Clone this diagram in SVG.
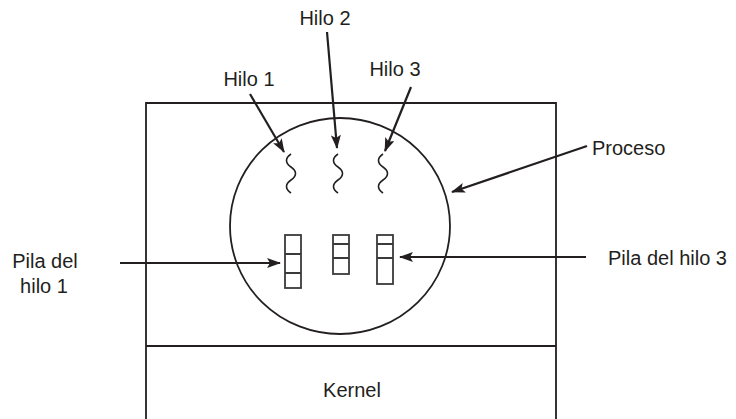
<svg xmlns="http://www.w3.org/2000/svg" width="736" height="419" viewBox="0 0 736 419">
<defs>
<style>
.t{font-family:"Liberation Sans",Arial,Helvetica,sans-serif;font-size:20px;fill:#231f20}
.box{fill:none;stroke:#231f20;stroke-width:1.8}
.arr{fill:none;stroke:#231f20;stroke-width:2.2;marker-end:url(#ah)}
.sq{fill:none;stroke:#231f20;stroke-width:1.6}
.stk{fill:none;stroke:#3a3a3a;stroke-width:1.8}
</style>
<marker id="ah" viewBox="0 0 14 10" refX="13" refY="5" markerWidth="14" markerHeight="10" markerUnits="userSpaceOnUse" orient="auto">
<path d="M0,0 L14,5 L0,10 L3,5 Z" fill="#231f20"/>
</marker>
</defs>
<rect width="736" height="419" fill="#fff"/>
<g id="system">
<path class="box" d="M146,425 V103 H556 V425 M146,346 H556"/>
</g>
<g id="proceso">
<ellipse class="box" cx="340" cy="226" rx="110" ry="108"/>
</g>
<g id="kernel">
<text class="t" x="352" y="397" text-anchor="middle">Kernel</text>
</g>
<g id="hilo1">
<path class="sq" d="M291,154 c-6,4 -6,9 0,13 s6,9 0,13 s-6,9 0,13"/>
<text class="t" x="249" y="86" text-anchor="middle">Hilo 1</text>
</g>
<g id="hilo2">
<path class="sq" d="M338,154 c-6,4 -6,9 0,13 s6,9 0,13 s-6,9 0,13"/>
<text class="t" x="325" y="25" text-anchor="middle">Hilo 2</text>
</g>
<g id="hilo3">
<path class="sq" d="M383,154 c-6,4 -6,9 0,13 s6,9 0,13 s-6,9 0,13"/>
<text class="t" x="395" y="76" text-anchor="middle">Hilo 3</text>
</g>
<g id="pila1">
<rect class="stk" x="285" y="235" width="16" height="53"/>
<path class="stk" d="M285,254 H301 M285,273 H301"/>
<text class="t" x="45" y="268" text-anchor="middle">Pila del</text>
<text class="t" x="44" y="293" text-anchor="middle">hilo 1</text>
</g>
<g id="pila2">
<rect class="stk" x="333" y="235" width="16" height="39"/>
<path class="stk" d="M333,244 H349 M333,258 H349"/>
</g>
<g id="pila3">
<rect class="stk" x="377" y="235" width="16" height="49"/>
<path class="stk" d="M377,244 H393 M377,258 H393"/>
<text class="t" x="608" y="265">Pila del hilo 3</text>
</g>
<g id="proceso-label">
<text class="t" x="592" y="155">Proceso</text>
</g>
<g id="connectors">
<line class="arr" x1="250" y1="94" x2="284" y2="152"/>
<line class="arr" x1="327" y1="32" x2="337" y2="148"/>
<line class="arr" x1="411" y1="87" x2="385" y2="151"/>
<line class="arr" x1="587" y1="146" x2="452" y2="192"/>
<line class="arr" x1="586" y1="257" x2="400" y2="257"/>
<line class="arr" x1="120" y1="263" x2="280" y2="263"/>
</g>
</svg>
